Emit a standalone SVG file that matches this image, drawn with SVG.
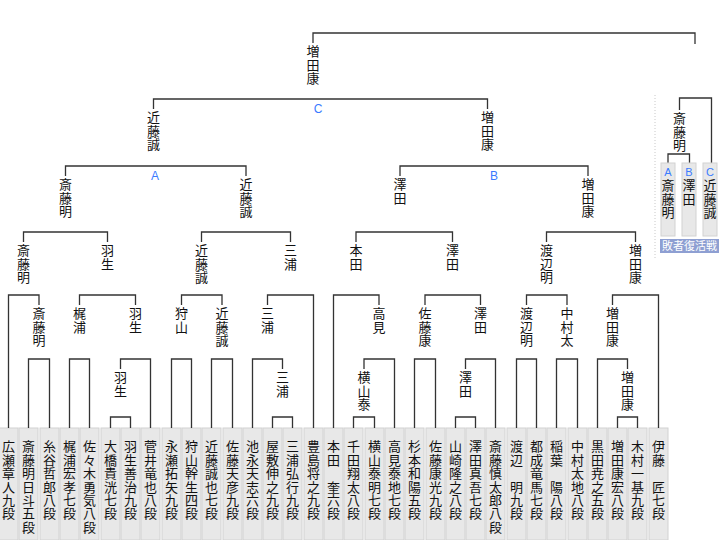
<svg xmlns="http://www.w3.org/2000/svg" width="720" height="540" viewBox="0 0 720 540">
<style>
.bg{fill:#fff}
.ln{fill:none;stroke:#333;stroke-width:1.3}
.box{fill:#e8e8e8;stroke:#d2d2d2;stroke-width:1}
.n{font-family:"Noto Sans CJK JP",sans-serif;font-size:13px;letter-spacing:0.5px;writing-mode:vertical-rl;fill:#111}
.lf{font-family:"Noto Sans CJK JP",sans-serif;font-size:13px;letter-spacing:0.4px;writing-mode:vertical-rl;fill:#111}
.ab{font-family:"Liberation Sans",sans-serif;font-size:12px;fill:#3a7bff;text-anchor:middle}
</style>
<rect class="bg" width="720" height="540"/>
<g id="leaves">
<rect class="box" x="-1" y="428" width="19" height="112"/><text class="lf" x="8.5" y="440">広瀬章人九段</text>
<rect class="box" x="19" y="428" width="19" height="112"/><text class="lf" x="28.5" y="440">斎藤明日斗五段</text>
<rect class="box" x="40" y="428" width="19" height="112"/><text class="lf" x="49.5" y="440">糸谷哲郎八段</text>
<rect class="box" x="60" y="428" width="19" height="112"/><text class="lf" x="69.5" y="440">梶浦宏孝七段</text>
<rect class="box" x="80" y="428" width="19" height="112"/><text class="lf" x="89.5" y="440">佐々木勇気八段</text>
<rect class="box" x="101" y="428" width="19" height="112"/><text class="lf" x="110.5" y="440">大橋貴洸七段</text>
<rect class="box" x="121" y="428" width="19" height="112"/><text class="lf" x="130.5" y="440">羽生善治九段</text>
<rect class="box" x="141" y="428" width="19" height="112"/><text class="lf" x="150.5" y="440">菅井竜也八段</text>
<rect class="box" x="162" y="428" width="19" height="112"/><text class="lf" x="171.5" y="440">永瀬拓矢九段</text>
<rect class="box" x="182" y="428" width="19" height="112"/><text class="lf" x="191.5" y="440">狩山幹生四段</text>
<rect class="box" x="202" y="428" width="19" height="112"/><text class="lf" x="211.5" y="440">近藤誠也七段</text>
<rect class="box" x="223" y="428" width="19" height="112"/><text class="lf" x="232.5" y="440">佐藤天彦九段</text>
<rect class="box" x="243" y="428" width="19" height="112"/><text class="lf" x="252.5" y="440">池永天志六段</text>
<rect class="box" x="263" y="428" width="19" height="112"/><text class="lf" x="272.5" y="440">屋敷伸之九段</text>
<rect class="box" x="283" y="428" width="19" height="112"/><text class="lf" x="292.5" y="440">三浦弘行九段</text>
<rect class="box" x="304" y="428" width="19" height="112"/><text class="lf" x="313.5" y="440">豊島将之九段</text>
<rect class="box" x="324" y="428" width="19" height="112"/><text class="lf" x="333.5" y="440">本田　奎六段</text>
<rect class="box" x="344" y="428" width="19" height="112"/><text class="lf" x="353.5" y="440">千田翔太八段</text>
<rect class="box" x="365" y="428" width="19" height="112"/><text class="lf" x="374.5" y="440">横山泰明七段</text>
<rect class="box" x="385" y="428" width="19" height="112"/><text class="lf" x="394.5" y="440">高見泰地七段</text>
<rect class="box" x="405" y="428" width="19" height="112"/><text class="lf" x="414.5" y="440">杉本和陽五段</text>
<rect class="box" x="426" y="428" width="19" height="112"/><text class="lf" x="435.5" y="440">佐藤康光九段</text>
<rect class="box" x="446" y="428" width="19" height="112"/><text class="lf" x="455.5" y="440">山崎隆之八段</text>
<rect class="box" x="466" y="428" width="19" height="112"/><text class="lf" x="475.5" y="440">澤田真吾七段</text>
<rect class="box" x="486" y="428" width="19" height="112"/><text class="lf" x="495.5" y="440">斎藤慎太郎八段</text>
<rect class="box" x="507" y="428" width="19" height="112"/><text class="lf" x="516.5" y="440">渡辺　明九段</text>
<rect class="box" x="527" y="428" width="19" height="112"/><text class="lf" x="536.5" y="440">都成竜馬七段</text>
<rect class="box" x="547" y="428" width="19" height="112"/><text class="lf" x="556.5" y="440">稲葉　陽八段</text>
<rect class="box" x="568" y="428" width="19" height="112"/><text class="lf" x="577.5" y="440">中村太地八段</text>
<rect class="box" x="588" y="428" width="19" height="112"/><text class="lf" x="597.5" y="440">黒田尭之五段</text>
<rect class="box" x="608" y="428" width="19" height="112"/><text class="lf" x="617.5" y="440">増田康宏八段</text>
<rect class="box" x="628" y="428" width="19" height="112"/><text class="lf" x="637.5" y="440">木村一基九段</text>
<rect class="box" x="649" y="428" width="19" height="112"/><text class="lf" x="658.5" y="440">伊藤　匠七段</text>
</g>
<g id="connectors" class="ln">
<path d="M110.5 428V417H130.5V428M272.5 428V417H292.5V428M353.5 428V417H374.5V428M455.5 428V417H475.5V428M617.5 428V417H637.5V428"/>
<path d="M28.5 428V359H49.5V428M69.5 428V359H89.5V428M120.5 369V359H150.5V428M171.5 428V359H191.5V428M211.5 428V359H232.5V428M252.5 428V359H282.5V369"/>
<path d="M364 369V359H394.5V428M414.5 428V359H435.5V428M465.5 369V359H495.5V428M516.5 428V359H536.5V428M556.5 428V359H577.5V428M597.5 428V359H627.5V369"/>
<path d="M8.5 428V295H39V305M79.5 305V295H135.5V305M181.5 305V295H222V305M267.5 305V295H313.5V428"/>
<path d="M333.5 428V295H379V305M425 305V295H480.5V305M526.5 305V295H567V305M612.5 305V295H658.5V428"/>
<path d="M23.5 242V232H107.5V242M201.5 242V232H290.5V242M356 242V232H452.5V242M546.5 242V232H635.5V242"/>
<path d="M65.5 176V166H246V176M400 176V166H588V176"/>
<path d="M153.5 109V99H487.5V109"/>
<path d="M313 43V33H695V44"/>
<path d="M679.5 110V98H711.5V163M668 163V154H689.5V163"/>
<path d="M655 95V258" style="stroke:#c8c8c8;stroke-width:1;stroke-dasharray:1 2"/>
</g>
<g id="nodes">
<text class="n" x="39" y="307">斎藤明</text>
<text class="n" x="79.5" y="307">梶浦</text>
<text class="n" x="120.5" y="371">羽生</text>
<text class="n" x="135.5" y="307">羽生</text>
<text class="n" x="181.5" y="307">狩山</text>
<text class="n" x="222" y="307">近藤誠</text>
<text class="n" x="282.5" y="371">三浦</text>
<text class="n" x="267.5" y="307">三浦</text>
<text class="n" x="23.5" y="244">斎藤明</text>
<text class="n" x="107.5" y="244">羽生</text>
<text class="n" x="201.5" y="244">近藤誠</text>
<text class="n" x="290.5" y="244">三浦</text>
<text class="n" x="65.5" y="178">斎藤明</text>
<text class="n" x="246" y="178">近藤誠</text>
<text class="n" x="153.5" y="111">近藤誠</text>
<text class="n" x="364" y="371">横山泰</text>
<text class="n" x="379" y="307">高見</text>
<text class="n" x="425" y="307">佐藤康</text>
<text class="n" x="465.5" y="371">澤田</text>
<text class="n" x="480.5" y="307">澤田</text>
<text class="n" x="526.5" y="307">渡辺明</text>
<text class="n" x="567" y="307">中村太</text>
<text class="n" x="627.5" y="371">増田康</text>
<text class="n" x="612.5" y="307">増田康</text>
<text class="n" x="356" y="244">本田</text>
<text class="n" x="452.5" y="244">澤田</text>
<text class="n" x="546.5" y="244">渡辺明</text>
<text class="n" x="635.5" y="244">増田康</text>
<text class="n" x="400" y="178">澤田</text>
<text class="n" x="588" y="178">増田康</text>
<text class="n" x="487.5" y="111">増田康</text>
<text class="n" x="313" y="45">増田康</text>
<text class="ab" x="155" y="180">A</text>
<text class="ab" x="494" y="180">B</text>
<text class="ab" x="318" y="113">C</text>
</g>
<g id="repechage">
<text class="n" x="679.5" y="112">斎藤明</text>
<rect class="box" x="661" y="163" width="14" height="73"/>
<rect class="box" x="682" y="163" width="14" height="73"/>
<rect class="box" x="703" y="163" width="14" height="73"/>
<text class="ab" x="668" y="176" style="font-size:11px">A</text>
<text class="ab" x="689" y="176" style="font-size:11px">B</text>
<text class="ab" x="710" y="176" style="font-size:11px">C</text>
<text class="n" x="668" y="179">斎藤明</text>
<text class="n" x="689" y="179">澤田</text>
<text class="n" x="710" y="179">近藤誠</text>
<rect x="660" y="239" width="59" height="14" fill="#8e9fd2"/>
<text x="689.5" y="250" text-anchor="middle" style="font-family:'Noto Sans CJK JP',sans-serif;font-size:11px;fill:#fff">敗者復活戦</text>
</g>
</svg>
